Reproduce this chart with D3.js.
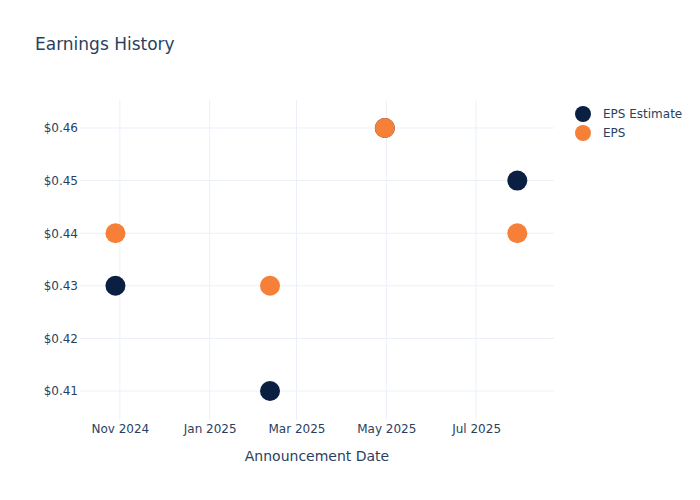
<!DOCTYPE html>
<html>
<head>
<meta charset="utf-8">
<script src="https://cdn.jsdelivr.net/npm/d3@7"></script>
<style>
  html, body { margin: 0; padding: 0; background: #fff; }
  svg { display: block; font-family: "DejaVu Sans", sans-serif; }
</style>
</head>
<body>
<svg id="chart" width="700" height="500"></svg>
<script>
const dates = ["2024-10-29", "2025-02-11", "2025-04-30", "2025-07-29"];
const epsEstimate = [0.43, 0.41, 0.46, 0.45];
const epsActual = [0.44, 0.43, 0.46, 0.44];
const seriesNames = ["EPS Estimate", "EPS"];
const seriesColors = ["#0b1f42", "#f68038"];
const xTickDates = ["2024-11-01", "2025-01-01", "2025-03-01", "2025-05-01", "2025-07-01"];
const yTicks = [0.41, 0.42, 0.43, 0.44, 0.45, 0.46];

const parse = d3.utcParse("%Y-%m-%d");
const svg = d3.select("#chart");
const W = 700, H = 500;
const m = { left: 80, right: 146, top: 100, bottom: 80 };
const pw = W - m.left - m.right, ph = H - m.top - m.bottom;
const font = "'DejaVu Sans', sans-serif";

const x = d3.scaleUtc()
  .domain([new Date(Date.UTC(2024, 9, 4, 22)), new Date(Date.UTC(2025, 7, 22, 22))])
  .range([m.left, m.left + pw]);
const y = d3.scaleLinear().domain([0.40449, 0.46532]).range([m.top + ph, m.top]);

const textColor = "#2a3f5f";
const gridColor = "#ebf0f8";

// grid
const g = svg.append("g");
g.selectAll("line.vg").data(xTickDates.map(parse)).join("line")
  .attr("x1", d => x(d)).attr("x2", d => x(d))
  .attr("y1", m.top).attr("y2", m.top + ph)
  .attr("stroke", gridColor).attr("stroke-width", 1);
g.selectAll("line.hg").data(yTicks).join("line")
  .attr("x1", m.left).attr("x2", m.left + pw)
  .attr("y1", d => y(d)).attr("y2", d => y(d))
  .attr("stroke", gridColor).attr("stroke-width", 1);

// axes
const xAxis = d3.axisBottom(x).tickValues(xTickDates.map(parse))
  .tickFormat(d3.utcFormat("%b %Y")).tickSize(0).tickPadding(4);
const xa = svg.append("g").attr("transform", `translate(0,${m.top + ph})`).call(xAxis);
xa.select(".domain").remove();
xa.selectAll("text").attr("fill", textColor).attr("font-size", 12)
  .attr("font-family", font);

const yAxis = d3.axisLeft(y).tickValues(yTicks)
  .tickFormat(d => "$" + d3.format(".2f")(d)).tickSize(0).tickPadding(2);
const ya = svg.append("g").attr("transform", `translate(${m.left},0)`).call(yAxis);
ya.select(".domain").remove();
ya.selectAll("text").attr("fill", textColor).attr("font-size", 12)
  .attr("font-family", font);

// points
const series = [epsEstimate, epsActual];
series.forEach((vals, i) => {
  svg.append("g").selectAll("circle").data(vals).join("circle")
    .attr("cx", (d, j) => x(parse(dates[j])))
    .attr("cy", d => y(d))
    .attr("r", 10)
    .attr("fill", seriesColors[i]);
});

// title
svg.append("text").attr("x", 35).attr("y", 50)
  .attr("fill", textColor).attr("font-size", 17).attr("font-family", font)
  .text("Earnings History");

// x-axis title
svg.append("text").attr("x", m.left + pw / 2).attr("y", 461)
  .attr("text-anchor", "middle").attr("fill", textColor).attr("font-size", 14)
  .attr("font-family", font).text("Announcement Date");

// legend
const lg = svg.append("g");
seriesNames.forEach((name, i) => {
  const cy = 114 + i * 19;
  lg.append("circle").attr("cx", 583).attr("cy", cy).attr("r", 8).attr("fill", seriesColors[i]);
  lg.append("text").attr("x", 603).attr("y", cy + 4).attr("fill", textColor)
    .attr("font-size", 12).attr("font-family", font).text(name);
});
</script>
</body>
</html>
